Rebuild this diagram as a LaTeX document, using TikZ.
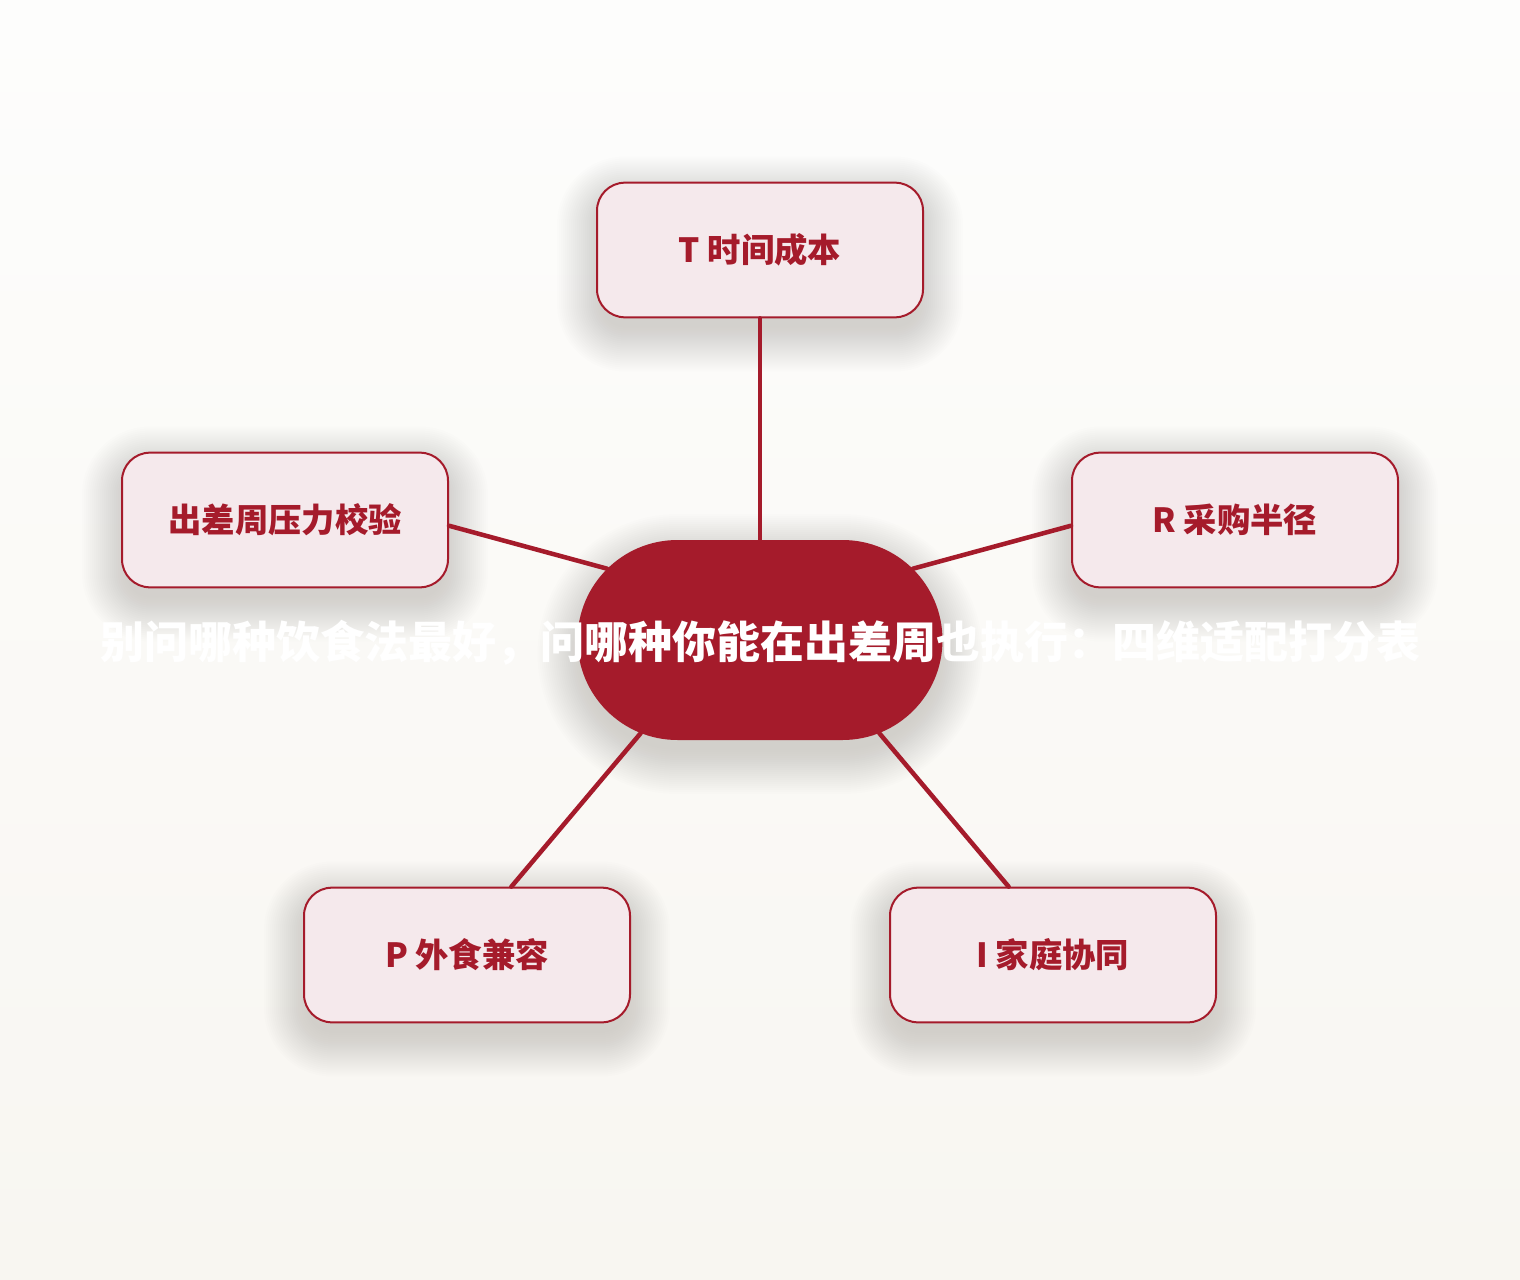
\documentclass[tikz,border=0pt]{standalone}
\usepackage{fontspec}
\setmainfont{Noto Sans CJK SC}
\usetikzlibrary{shapes.misc}
\definecolor{deepred}{HTML}{A51B2B}
\definecolor{rosefill}{HTML}{F5E9EC}
\definecolor{bgtop}{HTML}{FDFDFC}
\definecolor{bgbot}{HTML}{F8F6F1}
\definecolor{shadowink}{HTML}{5A5650}
\tikzset{%
	no/.style={draw=deepred, line width=1.5pt, rounded corners=21pt, fill=rosefill,
		minimum width=244.5pt, minimum height=101pt, text=deepred,
		font=\bfseries\fontsize{25}{30}\selectfont},
	hubno/.style={rounded rectangle, fill=deepred, minimum width=273.75pt, minimum height=150pt, inner sep=0pt},
	headtext/.style={text=white, font=\bfseries\fontsize{33}{40}\selectfont, inner sep=0pt},
	link/.style={deepred, line width=3.4pt, line cap=round},
	haze/.style={fill=shadowink, opacity=0.0085}}
% soft shadow, drawn as stacked see-through layers (w/h = half sizes, r = corner)
\newcommand{\softshadow}[6]{%
	\foreach \e in {-4,-2,...,40}{%
		\pgfmathsetmacro\rr{max(#5+\e,4)*0.75}
		\fill[haze, rounded corners=\rr pt] (#1-#3-\e, #2-#4-\e+#6) rectangle (#1+#3+\e, #2+#4+\e+#6);}}

\begin{document}
\begin{tikzpicture}[x=0.75pt, y=-0.75pt]
		\useasboundingbox (0,0) rectangle (1520,1280);
		\shade[top color=bgtop, bottom color=bgbot] (0,0) rectangle (1520,1280);
		
		% shadows
		\softshadow{760}{640}{182.5}{100}{100}{14}
		\foreach \cx/\cy in {760/250, 285/520, 1235/520, 467/955, 1053/955}
			\softshadow{\cx}{\cy}{163}{67.5}{28}{14};
		
		\node[hubno] (hub) at (760,640) {};
		\node[no] (T) at (760,250) {\raisebox{-2pt}{T 时间成本}};
		\node[no] (L) at (285,520) {\raisebox{-2pt}{出差周压力校验}};
		\node[no] (R) at (1235,520) {\raisebox{-2pt}{R 采购半径}};
		\node[no] (P) at (467,955) {\raisebox{-2pt}{P 外食兼容}};
		\node[no] (I) at (1053,955) {\raisebox{-2pt}{I 家庭协同}};
		
		\draw[link] (T) -- (hub);
		\draw[link] (hub.155) -- (L.-2);
		\draw[link] (hub.25) -- (R.182);
		\draw[link] (hub.218) -- (P.57);
		\draw[link] (hub.322) -- (I.123);
		
		\node[headtext] (head) at ([yshift=-2pt]hub.center) {别问哪种饮食法最好，问哪种你能在出差周也执行：四维适配打分表};
	\end{tikzpicture}
\end{document}
